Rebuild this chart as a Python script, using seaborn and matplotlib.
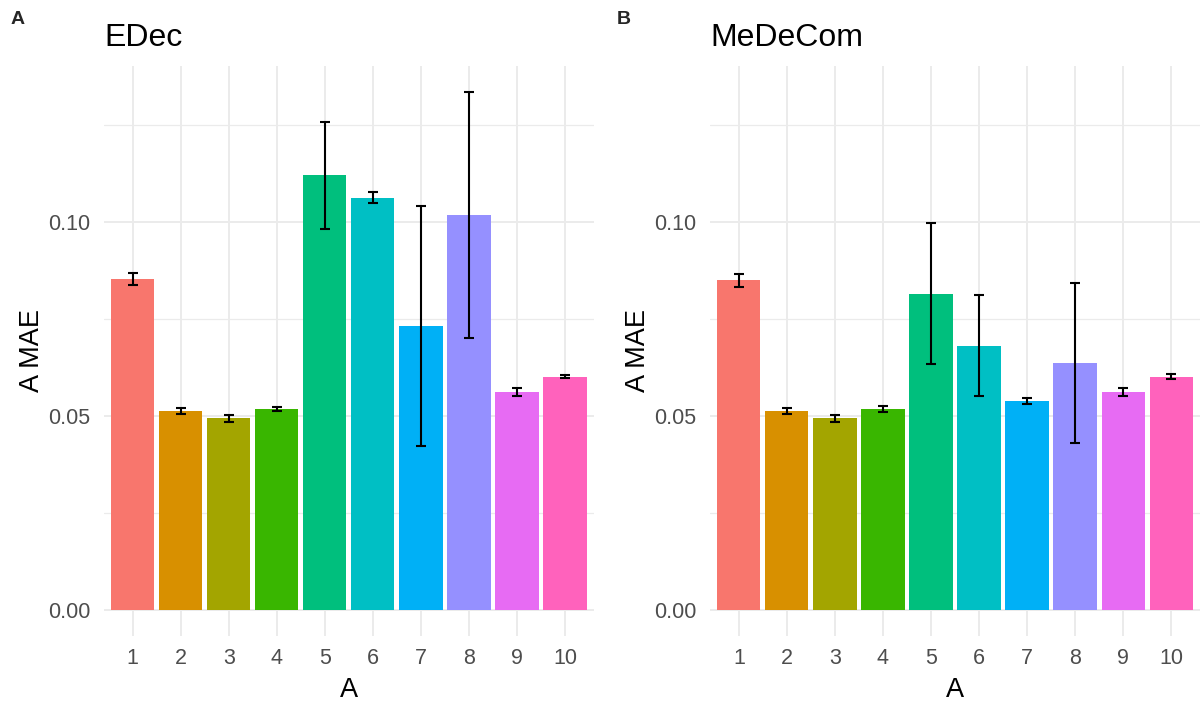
import matplotlib
matplotlib.use("Agg")
import matplotlib.pyplot as plt
import seaborn as sns
import numpy as np
import pandas as pd
from matplotlib.ticker import MultipleLocator, FormatStrFormatter

categories = ["1", "2", "3", "4", "5", "6", "7", "8", "9", "10"]
palette = ["#F8766D", "#D89000", "#A3A500", "#39B600", "#00BF7D",
           "#00BFC4", "#00B0F6", "#9590FF", "#E76BF3", "#FF62BC"]

edec_mean = [0.0852, 0.0513, 0.0493, 0.0517, 0.1120, 0.1062, 0.0731, 0.1018, 0.0561, 0.0601]
edec_err = [0.0015, 0.0008, 0.0010, 0.0006, 0.0138, 0.0014, 0.0310, 0.0318, 0.0010, 0.0005]

medecom_mean = [0.0849, 0.0513, 0.0493, 0.0517, 0.0815, 0.0680, 0.0537, 0.0636, 0.0561, 0.0601]
medecom_err = [0.0016, 0.0008, 0.0009, 0.0007, 0.0181, 0.0130, 0.0008, 0.0206, 0.0010, 0.0006]

titles = ["EDec", "MeDeCom"]
tags = ["A", "B"]

sns.set_theme(style="white")
plt.rcParams["font.family"] = ["Liberation Sans", "DejaVu Sans"]

W, H = 1203, 704
fig = plt.figure(figsize=(W / 100, H / 100), dpi=100)

panel_x = [(103.9, 593.8), (710.0, 1200.0)]
top_px, bot_px = 65.6, 635.5

ymax = max(max(np.array(edec_mean) + np.array(edec_err)),
           max(np.array(medecom_mean) + np.array(medecom_err)))
ylim = (-0.05 * ymax, 1.05 * ymax)

datasets = [(edec_mean, edec_err), (medecom_mean, medecom_err)]

for i, ((means, errs), title, tag) in enumerate(zip(datasets, titles, tags)):
    x0, x1 = panel_x[i]
    ax = fig.add_axes([x0 / W, 1 - bot_px / H, (x1 - x0) / W, (bot_px - top_px) / H])
    df = pd.DataFrame({"A": categories, "MAE": means, "err": errs})
    sns.barplot(data=df, x="A", y="MAE", hue="A", palette=palette, order=categories,
                hue_order=categories, legend=False, width=0.9, errorbar=None,
                saturation=1, linewidth=0, ax=ax)
    ax.errorbar(np.arange(len(categories)), df["MAE"], yerr=df["err"], fmt="none",
                ecolor="black", elinewidth=1.5, capsize=3.6, capthick=1.5, zorder=5)
    ax.set_xlim(-0.6, len(categories) - 0.4)
    ax.set_ylim(*ylim)
    ax.yaxis.set_major_locator(MultipleLocator(0.05))
    ax.yaxis.set_minor_locator(MultipleLocator(0.025))
    ax.yaxis.set_major_formatter(FormatStrFormatter("%.2f"))
    ax.set_axisbelow(True)
    ax.grid(True, which="major", axis="both", color="#EBEBEB", linewidth=1.4)
    ax.grid(True, which="minor", axis="y", color="#EBEBEB", linewidth=0.9)
    for s in ax.spines.values():
        s.set_visible(False)
    ax.tick_params(axis="both", which="both", length=0, labelsize=15.5,
                   labelcolor="#4D4D4D", pad=9)
    ax.tick_params(axis="y", pad=10)
    ax.set_xlabel("A", fontsize=19.5, color="black", labelpad=6)
    ax.set_ylabel("A MAE", fontsize=19.5, color="black", labelpad=2)
    ax.set_title(title, fontsize=23, loc="left", pad=14, color="black")
    fig.text((18 if i == 0 else 624) / W, 1 - 20 / H, tag, fontsize=14,
             fontweight="bold", va="center", ha="center")

fig.savefig("out.png", dpi=100, facecolor="white")
